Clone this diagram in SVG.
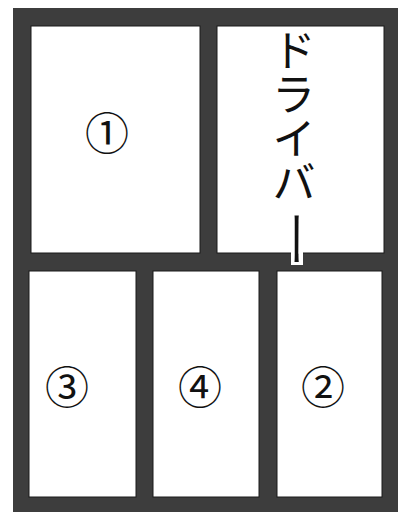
<svg xmlns="http://www.w3.org/2000/svg" width="398" height="512" viewBox="0 0 398 512">
<style>
.room{fill:#ffffff;stroke:#1a1a1a;stroke-width:1}
.num{font-family:"Noto Sans CJK JP","DejaVu Sans",sans-serif;font-size:44px;fill:#111;text-anchor:middle;dominant-baseline:central}
.vt{font-family:"Noto Sans CJK JP",sans-serif;font-size:44px;fill:#111;writing-mode:vertical-rl}
</style>
<rect x="0" y="0" width="398" height="512" fill="#ffffff"/>
<rect id="frame" x="13" y="8" width="390" height="510" fill="#3d3d3d"/>
<g id="room1"><rect class="room" x="31" y="26" width="169" height="227"/><text class="num" x="107" y="131">①</text></g>
<g id="driver"><rect class="room" x="217" y="26" width="167" height="227"/>
<rect x="291" y="250" width="12" height="15" fill="#ffffff"/>
<text class="vt" x="294" y="28">ドライバ</text>
<text class="vt" x="297" y="210" transform="translate(0,210) scale(1,1.35) translate(0,-210)">ー</text></g>
<g id="room3"><rect class="room" x="29" y="271" width="107" height="226"/><text class="num" x="67" y="385">③</text></g>
<g id="room4"><rect class="room" x="153" y="271" width="106" height="226"/><text class="num" x="200" y="385">④</text></g>
<g id="room2"><rect class="room" x="277" y="271" width="105" height="226"/><text class="num" x="323" y="385">②</text></g>
<g id="connectors"></g>
</svg>
